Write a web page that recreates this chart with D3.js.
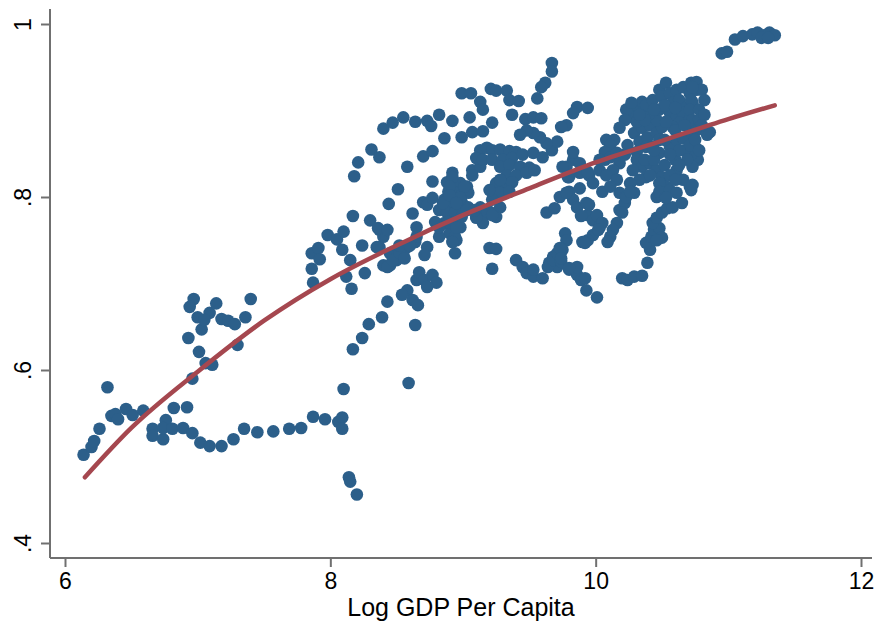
<!DOCTYPE html>
<html>
<head>
<meta charset="utf-8">
<script src="https://cdn.jsdelivr.net/npm/d3@7"></script>
<style>
  html, body { margin: 0; padding: 0; background: #fff; }
  svg { display: block; }
</style>
</head>
<body>
<svg id="chart" width="875" height="626"></svg>
<script>
// Axis ticks and labels
const xTickValues = [6, 8, 10, 12];
const xTickLabels = ["6", "8", "10", "12"];
const yTickValues = [0.4, 0.6, 0.8, 1];
const yTickLabels = [".4", ".6", ".8", "1"];
const xTitle = "Log GDP Per Capita";

// Fitted curve (log GDP per capita, fitted value)
const fitX = [6.15, 6.5, 7, 7.5, 8, 8.5, 9, 9.5, 10, 10.5, 11, 11.35];
const fitY = [0.476, 0.533, 0.598, 0.657, 0.705, 0.744, 0.779, 0.810, 0.840, 0.865, 0.890, 0.906];

// Observations: [log GDP per capita, value]
const lowIncome = [
  [6.14,0.502],[6.20,0.511],[6.22,0.518],[6.26,0.532],[6.32,0.580],[6.35,0.547],[6.38,0.549],[6.40,0.543],
  [6.46,0.555],[6.51,0.548],[6.59,0.553],[6.66,0.532],[6.66,0.524],[6.74,0.520],[6.76,0.542],[6.74,0.533],
  [6.81,0.532],[6.82,0.556],[6.89,0.533],[6.92,0.557],[6.96,0.527],[6.96,0.590],[7.02,0.516],[7.09,0.512],
  [7.18,0.512],[7.27,0.520],[7.35,0.532],[7.45,0.528],[7.57,0.529],[7.69,0.532],[7.78,0.533],[7.87,0.546],
  [7.96,0.543],[8.06,0.540],[8.09,0.545],[8.09,0.532],[8.10,0.578],[8.14,0.476],[8.15,0.471],[8.20,0.456],
  [8.59,0.585],
  [6.93,0.637],[7.01,0.621],[7.03,0.647],[7.06,0.608],[7.11,0.606],[7.30,0.629],[6.97,0.682],[6.94,0.673],
  [7.00,0.661],[7.09,0.666],[7.14,0.677],[7.05,0.658],[7.18,0.659],[7.23,0.657],[7.28,0.653],[7.36,0.661],
  [7.40,0.682]
];

const middleIncome = [
  [7.86,0.735],[7.91,0.741],[7.92,0.728],[7.86,0.717],[7.87,0.701],[7.98,0.756],[8.05,0.751],[8.10,0.760],
  [8.17,0.778],[8.09,0.739],[8.15,0.727],[8.12,0.708],[8.16,0.694],[8.24,0.744],[8.26,0.712],[8.30,0.773],
  [8.37,0.762],[8.40,0.754],[8.37,0.742],[8.40,0.721],[8.45,0.721],[8.50,0.727],[8.58,0.742],[8.55,0.733],
  [8.62,0.781],[8.65,0.765],[8.44,0.792],[8.65,0.704],[8.58,0.692],[8.54,0.687],[8.62,0.681],[8.43,0.679],
  [8.39,0.661],[8.29,0.653],[8.24,0.637],[8.17,0.624],[8.64,0.652],[8.66,0.675],[8.36,0.764],[8.43,0.762],
  [8.35,0.742],[8.45,0.735],[8.43,0.719],[8.47,0.727],[8.52,0.736],[8.64,0.748],[8.70,0.794],[8.73,0.791],
  [8.65,0.754],[8.73,0.742],[8.71,0.733],[8.67,0.713],[8.71,0.704],[8.77,0.710],[8.80,0.701],[8.73,0.696],
  [8.52,0.744],[8.60,0.744],[8.56,0.729],
  [8.18,0.824],[8.21,0.840],[8.31,0.855],[8.37,0.846],[8.40,0.879],[8.47,0.886],[8.55,0.892],[8.64,0.887],
  [8.73,0.888],[8.76,0.882],[8.82,0.895],[8.92,0.888],[9.05,0.892],[9.22,0.886],[9.07,0.875],[9.15,0.876],
  [8.86,0.868],[8.99,0.869],[8.70,0.847],[8.77,0.853],[8.58,0.835],[8.51,0.809],[8.77,0.818],
  [8.99,0.920],[9.06,0.920],[9.13,0.910],[9.15,0.901],[9.21,0.925],[9.25,0.923],[9.33,0.923],[9.35,0.912],
  [9.42,0.911],[9.37,0.895],[9.47,0.890],[9.53,0.892],[9.59,0.891],[9.67,0.955],[9.67,0.945],[9.62,0.932],
  [9.59,0.927],[9.56,0.914],[9.86,0.904],[9.94,0.903],[9.83,0.897],[9.78,0.883],[9.74,0.881],
  [8.92,0.828],[8.88,0.817],[8.92,0.814],[8.98,0.816],[9.03,0.812],[8.89,0.806],[8.94,0.805],[8.99,0.802],
  [9.04,0.805],[8.86,0.797],[8.92,0.793],[8.99,0.794],[9.04,0.788],[8.82,0.785],[8.88,0.782],[8.94,0.782],
  [9.00,0.783],[8.86,0.770],[8.92,0.770],[8.98,0.765],[8.90,0.758],[8.95,0.750],[8.82,0.754],[8.94,0.735],
  [9.07,0.831],[9.13,0.835],[9.07,0.825],[9.13,0.854],[9.18,0.857],[9.22,0.854],[9.28,0.855],[9.35,0.853],
  [9.40,0.852],[9.10,0.845],[9.15,0.843],[9.22,0.843],[9.30,0.843],[9.37,0.845],[9.45,0.849],[9.53,0.851],
  [9.60,0.846],[9.67,0.854],[9.71,0.864],[9.63,0.862],[9.58,0.869],[9.53,0.874],[9.48,0.877],[9.43,0.872],
  [9.28,0.835],[9.35,0.837],[9.43,0.835],[9.50,0.834],[9.33,0.825],[9.40,0.825],[9.48,0.828],[9.54,0.831],
  [9.25,0.816],[9.33,0.814],[9.37,0.817],[9.28,0.805],[9.35,0.806],[9.22,0.797],[9.28,0.788],[9.20,0.783],
  [9.13,0.788],[9.16,0.779],[9.10,0.777],[9.15,0.770],[9.25,0.777],[9.20,0.741],[9.25,0.740],[9.22,0.717],
  [9.40,0.727],[9.45,0.719],[9.48,0.712],[9.53,0.708],[9.60,0.706],[9.53,0.716],[9.63,0.782],[9.69,0.787],
  [9.73,0.800],[9.77,0.758],[9.78,0.750],[9.73,0.739],[9.68,0.731],[9.65,0.724],[9.71,0.719],[9.80,0.716],
  [9.86,0.710],[9.89,0.704],[9.93,0.692],[10.01,0.684],[9.80,0.806],[9.88,0.810],[9.83,0.797],[9.86,0.788],
  [9.93,0.793],[9.94,0.779],[9.98,0.773],[10.03,0.765],[9.90,0.748],[9.98,0.756],[9.80,0.823],[9.88,0.828],
  [9.95,0.825],[10.03,0.831],[10.07,0.843],[10.08,0.866],[10.05,0.806],[9.83,0.843],[9.88,0.839],[9.83,0.852],
  [8.92,0.823],[8.90,0.812],[9.01,0.812],[8.98,0.799],[9.28,0.820],[9.20,0.808],[9.78,0.835],[9.79,0.823],
  [8.77,0.799],[8.85,0.793],[8.90,0.802],[8.95,0.793],[9.03,0.785],[8.99,0.777],[8.89,0.771],[8.82,0.765],
  [8.79,0.771],[8.94,0.754],[8.95,0.765],[8.92,0.748],[9.10,0.776],[9.09,0.785],[9.22,0.779],[9.64,0.719],
  [9.68,0.727],[9.71,0.735],[9.75,0.739],[9.74,0.725],[9.86,0.719],[9.92,0.706]
];

const highIncome = [
  [9.75,0.835],[9.94,0.829],[10.14,0.866],[10.11,0.860],[10.07,0.852],[10.03,0.843],[10.11,0.846],[10.16,0.851],
  [10.26,0.903],[10.31,0.901],[10.35,0.910],[10.28,0.892],[10.29,0.874],[10.35,0.880],[10.41,0.883],[10.33,0.864],
  [10.39,0.869],[10.46,0.874],[10.38,0.858],[10.31,0.852],[10.43,0.858],[10.48,0.866],[10.50,0.881],[10.46,0.889],
  [10.41,0.897],[10.38,0.906],[10.43,0.912],[10.48,0.924],[10.53,0.932],[10.50,0.916],[10.56,0.920],[10.58,0.909],
  [10.61,0.924],[10.63,0.912],[10.66,0.927],[10.71,0.920],[10.69,0.904],[10.73,0.909],[10.72,0.932],[10.76,0.924],
  [10.48,0.901],[10.56,0.897],[10.61,0.892],[10.66,0.897],[10.63,0.886],[10.71,0.889],[10.58,0.881],[10.53,0.887],
  [10.31,0.843],[10.35,0.835],[10.41,0.839],[10.48,0.851],[10.56,0.858],[10.61,0.866],[10.66,0.868],[10.72,0.875],
  [10.76,0.886],[10.46,0.831],[10.50,0.823],[10.53,0.812],[10.48,0.816],[10.38,0.823],[10.33,0.820],[10.28,0.831],
  [10.26,0.816],[10.29,0.805],[10.18,0.839],[10.13,0.831],[10.08,0.825],[10.16,0.820],[10.18,0.805],[10.11,0.812],
  [9.98,0.816],[10.71,0.812],[10.66,0.820],[10.61,0.831],[10.23,0.901],[10.27,0.909],[10.31,0.887],[9.78,0.805],
  [9.95,0.791],[9.89,0.778],[10.01,0.779],[10.05,0.770],[10.02,0.762],[9.94,0.750],[9.92,0.747],[10.16,0.770],
  [10.13,0.762],[10.11,0.754],[10.09,0.748],[10.18,0.785],[10.22,0.793],[10.23,0.800],[10.26,0.806],[10.20,0.782],
  [9.73,0.741],[9.74,0.729],[9.80,0.718],[10.20,0.706],[10.24,0.704],[10.29,0.708],[10.35,0.709],[10.39,0.724],
  [10.41,0.739],[10.38,0.747],[10.42,0.754],[10.44,0.762],[10.48,0.764],[10.50,0.753],[10.46,0.750],[10.43,0.770],
  [10.46,0.776],[10.50,0.782],[10.54,0.787],[10.58,0.788],[10.65,0.793],[10.46,0.800],[10.48,0.806],[10.56,0.808],
  [10.61,0.805],[10.53,0.799],[10.72,0.808],
  [10.95,0.966],[10.99,0.968],[11.05,0.982],[11.11,0.986],[11.18,0.988],[11.22,0.990],[11.27,0.987],[11.31,0.990],
  [11.35,0.987],[11.25,0.984],[11.30,0.984],
  [10.76,0.933],[10.80,0.924],[10.82,0.912],[10.73,0.927],[10.72,0.912],[10.71,0.901],[10.73,0.889],[10.76,0.877],
  [10.86,0.875],[10.84,0.872],[10.75,0.858],[10.77,0.843],[10.73,0.835],[10.72,0.849],[10.73,0.814],
  [10.37,0.843],[10.44,0.843],[10.52,0.837],[10.60,0.843],[10.67,0.854],[10.71,0.860],[10.63,0.854],[10.56,0.849],
  [10.52,0.866],[10.44,0.854],[10.37,0.889],[10.33,0.895],[10.60,0.877],[10.67,0.883],[10.75,0.866],[10.78,0.901],
  [10.78,0.889],[10.52,0.906],[10.60,0.903],[10.44,0.901],[10.22,0.889],[10.18,0.880],[10.24,0.860],[10.22,0.849],
  [10.41,0.825],[10.56,0.825],[10.60,0.820],[10.69,0.843],[10.63,0.837],[10.78,0.854],[10.82,0.895],[10.80,0.883]
];

const observations = lowIncome.concat(middleIncome, highIncome);

// Layout
const W = 875, H = 626;
const frame = { left: 50, right: 872, top: 9, bottom: 558 };
const axisColor = "#707070";
const dotColor = "#2c5f8a";
const fitColor = "#a5474f";
const fontFamily = '"Liberation Sans", Arial, Helvetica, sans-serif';

const x = d3.scaleLinear().domain([6, 12]).range([65, 861]);
const y = d3.scaleLinear().domain([0.4, 1]).range([543, 24]);

const svg = d3.select("#chart");
svg.append("rect").attr("width", W).attr("height", H).attr("fill", "#fff");

// X axis
const gx = svg.append("g")
  .attr("transform", `translate(0,${frame.bottom})`)
  .call(d3.axisBottom(x)
    .tickValues(xTickValues)
    .tickFormat((d, i) => xTickLabels[i])
    .tickSize(9).tickSizeOuter(0).tickPadding(6));
gx.select(".domain").remove();
gx.attr("font-family", fontFamily).attr("font-size", 23);
gx.selectAll(".tick line").attr("stroke", axisColor).attr("stroke-width", 2);
gx.selectAll(".tick text").attr("fill", "#000");

// Y axis, labels turned to read upward
const gy = svg.append("g")
  .attr("transform", `translate(${frame.left},0)`)
  .call(d3.axisLeft(y)
    .tickValues(yTickValues)
    .tickFormat((d, i) => yTickLabels[i])
    .tickSize(9).tickSizeOuter(0));
gy.select(".domain").remove();
gy.attr("font-family", fontFamily).attr("font-size", 23);
gy.selectAll(".tick line").attr("stroke", axisColor).attr("stroke-width", 2);
gy.selectAll(".tick text")
  .attr("fill", "#000")
  .attr("x", 0).attr("dy", 0)
  .attr("text-anchor", "middle")
  .attr("transform", "translate(-19.5,0) rotate(-90)");

// Axis lines
svg.append("line")
  .attr("x1", frame.left).attr("x2", frame.left)
  .attr("y1", frame.top).attr("y2", frame.bottom)
  .attr("stroke", axisColor).attr("stroke-width", 2);
svg.append("line")
  .attr("x1", frame.left).attr("x2", frame.right)
  .attr("y1", frame.bottom).attr("y2", frame.bottom)
  .attr("stroke", axisColor).attr("stroke-width", 2);

// Scatter
svg.append("g")
  .selectAll("circle")
  .data(observations)
  .join("circle")
  .attr("cx", d => x(d[0]))
  .attr("cy", d => y(d[1]))
  .attr("r", 6.3)
  .attr("fill", dotColor);

// Fitted curve
const fitPoints = fitX.map((v, i) => [v, fitY[i]]);
svg.append("path")
  .datum(fitPoints)
  .attr("fill", "none")
  .attr("stroke", fitColor)
  .attr("stroke-width", 4.5)
  .attr("stroke-linecap", "round")
  .attr("stroke-linejoin", "round")
  .attr("d", d3.line().x(d => x(d[0])).y(d => y(d[1])).curve(d3.curveMonotoneX));

// X axis title
svg.append("text")
  .attr("x", (frame.left + frame.right) / 2)
  .attr("y", 616)
  .attr("text-anchor", "middle")
  .attr("font-family", fontFamily)
  .attr("font-size", 25)
  .attr("fill", "#000")
  .text(xTitle);
</script>
</body>
</html>
